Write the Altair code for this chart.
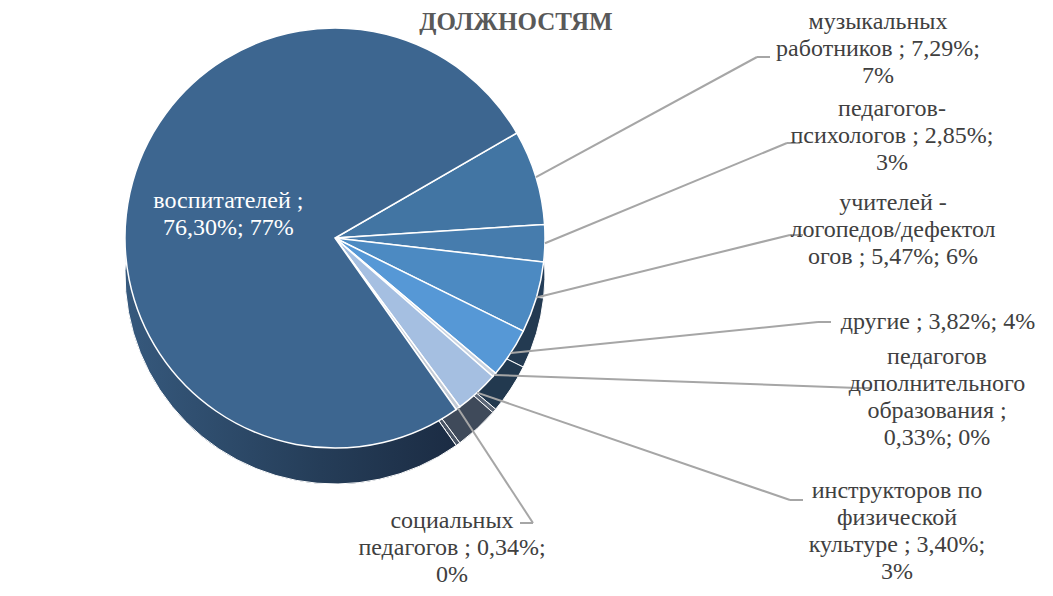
import math
import altair as alt
import pandas as pd

# ---------------- data ----------------
title_text = "ДОЛЖНОСТЯМ"
categories = [
    "музыкальных работников",
    "педагогов-психологов",
    "учителей - логопедов/дефектологов",
    "другие",
    "педагогов дополнительного образования",
    "инструкторов по физической культуре",
    "социальных педагогов",
    "воспитателей",
]
shares = [7.29, 2.85, 5.47, 3.82, 0.33, 3.40, 0.34, 76.30]
labels = [
    "музыкальных\nработников ; 7,29%;\n7%",
    "педагогов-\nпсихологов ; 2,85%;\n3%",
    "учителей -\nлогопедов/дефектол\nогов  ; 5,47%; 6%",
    "другие ; 3,82%; 4%",
    "педагогов\nдополнительного\nобразования ;\n0,33%; 0%",
    "инструкторов по\nфизической\nкультуре ; 3,40%;\n3%",
    "социальных\nпедагогов ; 0,34%;\n0%",
    "воспитателей ;\n76,30%; 77%",
]

# ---------------- styles / layout ----------------
top_colors = ["#4275a3", "#467cad", "#4c8ac2", "#5698d6", "#c9d3e0", "#a5bfe1", "#c3cbd6", "#3d6690"]
side_colors = ["#24405c", "#243d58", "#233a51", "#22394f", "#5a6575", "#3f4a5a", "#4a5565", "#22364f"]
OFF = 8
CX, CY, R, DEPTH = 335 - OFF, 238 - OFF, 210, 36
START = math.radians(60)
# label first-line centres, line heights and leader-line elbows (page px)
label_pos = [(878, 22), (892, 109), (893, 203), (938, 322), (937, 357), (897, 491), (452, 521), (None, None)]
elbow_pos = [(757, 57), (787, 143), (790, 235), (818, 322), (858, 388), (790, 500), (533, 523), (None, None)]
tick_dir = [1, 1, 1, 1, 1, 1, -1, 0]

rows = []
for i, c in enumerate(categories):
    rows.append({
        "idx": i, "category": c, "share": shares[i], "label": labels[i],
        "tx": None if label_pos[i][0] is None else label_pos[i][0] - OFF,
        "ty": None if label_pos[i][1] is None else label_pos[i][1] - OFF,
        "lx": None if elbow_pos[i][0] is None else elbow_pos[i][0] - OFF,
        "ly": None if elbow_pos[i][1] is None else elbow_pos[i][1] - OFF,
        "hx": None if elbow_pos[i][0] is None else elbow_pos[i][0] - OFF + 13 * tick_dir[i],
    })
df = pd.DataFrame(rows)

FONT = "Liberation Serif"
FS = 24

base = (
    alt.Chart(df)
    .transform_joinaggregate(total="sum(share)")
    .transform_window(cum="sum(share)", sort=[alt.SortField("idx")], frame=[None, 0])
    .transform_calculate(
        a1=f"{START} + 2*PI*datum.cum/datum.total",
        a0=f"{START} + 2*PI*(datum.cum - datum.share)/datum.total",
    )
    .transform_calculate(mid="(datum.a0 + datum.a1)/2")
    .transform_calculate(
        ex=f"{CX} + {R}*sin(datum.mid)",
        ey=f"{CY} - {R}*cos(datum.mid)",
        ix=f"{CX} + {R*0.52}*sin(datum.mid)",
        iy=f"{CY} - {R*0.52}*cos(datum.mid) - 14",
    )
)

theta = alt.Theta("a0:Q", scale=None)
theta2 = alt.Theta2("a1:Q")

side = base.mark_arc(radius=R, stroke="white", strokeWidth=1).encode(
    theta=theta, theta2=theta2,
    fill=alt.Fill("category:N", scale=alt.Scale(domain=categories, range=side_colors), legend=None),
    x=alt.value(CX), y=alt.value(CY + DEPTH),
)

side_main = base.transform_filter("datum.idx == 7").mark_arc(
    radius=R, stroke="white", strokeWidth=1,
    fill=alt.Gradient(
        gradient="linear", x1=0, y1=0, x2=1, y2=0,
        stops=[alt.GradientStop(color="#36597d", offset=0),
               alt.GradientStop(color="#253d58", offset=0.5),
               alt.GradientStop(color="#17243a", offset=1)],
    ),
).encode(theta=theta, theta2=theta2, x=alt.value(CX), y=alt.value(CY + DEPTH))

top = base.mark_arc(radius=R, stroke="white", strokeWidth=1.5).encode(
    theta=theta, theta2=theta2,
    color=alt.Color("category:N", scale=alt.Scale(domain=categories, range=top_colors), legend=None),
    x=alt.value(CX), y=alt.value(CY),
)

leaders = base.transform_filter("datum.idx < 7").mark_rule(color="#a6a6a6", strokeWidth=2).encode(
    x=alt.X("ex:Q", scale=None), y=alt.Y("ey:Q", scale=None),
    x2="lx:Q", y2="ly:Q",
)
ticks = base.transform_filter("datum.idx < 7").mark_rule(color="#a6a6a6", strokeWidth=2).encode(
    x=alt.X("lx:Q", scale=None), y=alt.Y("ly:Q", scale=None), x2="hx:Q",
)

outer_labels = base.transform_filter("datum.idx < 7").mark_text(
    font=FONT, fontSize=FS, color="#404040", lineBreak="\n", lineHeight=27,
    align="center", baseline="middle",
).encode(x=alt.X("tx:Q", scale=None), y=alt.Y("ty:Q", scale=None), text="label:N")

inner_label = base.transform_filter("datum.idx == 7").mark_text(
    font=FONT, fontSize=FS, color="white", lineBreak="\n", lineHeight=27,
    align="center", baseline="middle",
).encode(x=alt.X("ix:Q", scale=None), y=alt.Y("iy:Q", scale=None), text="label:N")

title = alt.Chart(pd.DataFrame({"t": [title_text]})).mark_text(
    font=FONT, fontSize=25, fontWeight="bold", color="#595959", align="center", baseline="middle",
).encode(x=alt.value(516 - OFF), y=alt.value(22 - OFF), text="t:N")

chart = (
    alt.layer(side, side_main, top, leaders, ticks, outer_labels, inner_label, title)
    .resolve_scale(color="independent", fill="independent")
    .properties(width=1037, height=580, padding=0, autosize="none", background="white")
    .configure_view(stroke=None)
)

chart.save("out.html", embed_options={"renderer": "svg", "actions": False})
